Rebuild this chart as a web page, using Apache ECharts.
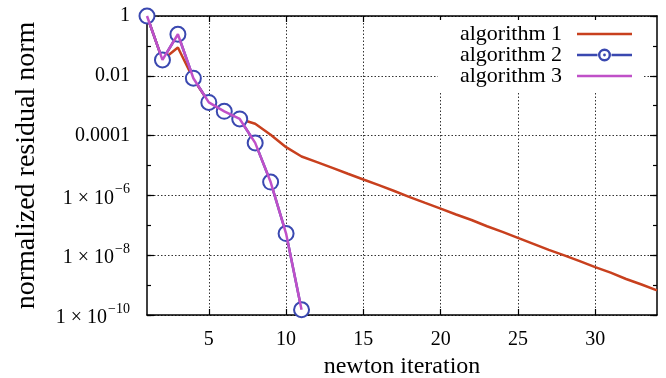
<!DOCTYPE html>
<html>
<head>
<meta charset="utf-8">
<script src="https://cdn.jsdelivr.net/npm/echarts@6/dist/echarts.min.js"></script>
<style>
html,body{margin:0;padding:0;background:#fff;}
#chart{width:666px;height:378px;}
</style>
</head>
<body>
<div id="chart"></div>
<script>
// iterations
const iter1 = [1,2,3,4,5,6,7,8,9,10,11,12,13,14,15,16,17,18,19,20,21,22,23,24,25,26,27,28,29,30,31,32,33,34];
const iter2 = [1,2,3,4,5,6,7,8,9,10,11];
// normalized residual norms
const alg1 = [1, 0.034, 0.088, 0.0078, 1.29e-3, 6.5e-4, 3.6e-4, 2.5e-4, 1.07e-4, 4.1e-5, 2.0e-5,
  1.3e-5, 8.3e-6, 5.3e-6, 3.4e-6, 2.2e-6, 1.4e-6, 8.8e-7, 5.6e-7, 3.6e-7, 2.3e-7, 1.5e-7,
  9.3e-8, 6.0e-8, 3.8e-8, 2.4e-8, 1.5e-8, 9.9e-9, 6.3e-9, 4.0e-9, 2.6e-9, 1.6e-9, 1.05e-9, 6.7e-10];
const alg2 = [1, 0.034, 0.245, 0.0083, 1.29e-3, 6.5e-4, 3.6e-4, 5.7e-5, 2.8e-6, 5.3e-8, 1.5e-10];
const alg3 = [1, 0.034, 0.245, 0.0083, 1.29e-3, 6.5e-4, 3.6e-4, 5.7e-5, 2.8e-6, 5.3e-8, 1.5e-10];
const names = ['algorithm 1', 'algorithm 2', 'algorithm 3'];
const xTicks = [5, 10, 15, 20, 25, 30];

const FONT = '"Liberation Serif", "DejaVu Serif", serif';
const pair = (xs, ys) => xs.map((x, i) => [x, ys[i]]);

function yFmt(v) {
  const e = Math.round(Math.log10(v));
  if (e === 0) return '1';
  if (e === -2) return '0.01';
  if (e === -4) return '0.0001';
  return '{m|1 × 10}{s|−' + (-e) + '}';
}

// legend icons (55 x 14 box); tiny degenerate sub-paths pin the bounding box
const pin = 'M0,0L0.01,0L0.01,0.01Z M54.99,13.99L55,13.99L55,14Z ';
const lineIcon = 'path://' + pin + 'M0,5.75L55,5.75L55,8.25L0,8.25Z';
const circIcon = 'path://' + pin +
  'M0,5.75L20.5,5.75L20.5,8.25L0,8.25Z M34.5,5.75L55,5.75L55,8.25L34.5,8.25Z ' +
  'M21,7A6.5,6.5 0 1,1 34,7A6.5,6.5 0 1,1 21,7Z ' +
  'M23.4,7A4.1,4.1 0 1,0 31.6,7A4.1,4.1 0 1,0 23.4,7Z ' +
  'M26.1,7A1.4,1.4 0 1,1 28.9,7A1.4,1.4 0 1,1 26.1,7Z';

const chart = echarts.init(document.getElementById('chart'), null, {renderer: 'canvas'});
const tickStyle = {color: '#000', width: 1.2};
chart.setOption({
  animation: false,
  backgroundColor: '#fff',
  grid: {left: 147, right: 9, top: 16, bottom: 63, containLabel: false, outerBoundsMode: 'none'},
  legend: {
    data: [
      {name: names[0], icon: lineIcon},
      {name: names[1], icon: circIcon},
      {name: names[2], icon: lineIcon}
    ],
    orient: 'vertical',
    right: 24,
    top: 20,
    align: 'right',
    itemWidth: 55,
    itemHeight: 14,
    itemGap: -1,
    padding: [3, 10, 6, 22],
    backgroundColor: '#fff',
    textStyle: {fontFamily: FONT, fontSize: 22, color: '#000', padding: [0, 10, 0, 0]}
  },
  xAxis: [{
    type: 'value', min: 1, max: 34, interval: 5,
    position: 'bottom',
    name: 'newton iteration', nameLocation: 'middle', nameGap: 40,
    nameTextStyle: {fontFamily: FONT, fontSize: 24, color: '#000'},
    axisLine: {show: true, lineStyle: {color: '#000', width: 1.5}},
    axisTick: {show: true, inside: true, length: 6, lineStyle: tickStyle,
      customValues: xTicks},
    axisLabel: {fontFamily: FONT, fontSize: 20, color: '#000', margin: 15,
      customValues: xTicks},
    splitLine: {show: true, lineStyle: {color: '#333', type: [1.5, 2], width: 1}}
  }, {
    type: 'value', min: 1, max: 34, interval: 5,
    position: 'top',
    axisLine: {show: true, lineStyle: {color: '#000', width: 1.5}},
    axisTick: {show: true, inside: true, length: 6, lineStyle: tickStyle, customValues: xTicks},
    axisLabel: {show: false},
    splitLine: {show: false}
  }],
  yAxis: [{
    type: 'log', logBase: 10, min: 1e-10, max: 1, interval: 2,
    position: 'left',
    name: 'normalized residual norm', nameLocation: 'middle', nameGap: 106, nameRotate: 90,
    nameTextStyle: {fontFamily: FONT, fontSize: 28, color: '#000'},
    axisLine: {show: true, lineStyle: {color: '#000', width: 1.5}},
    axisTick: {show: true, inside: true, length: 7, lineStyle: tickStyle},
    axisLabel: {
      fontFamily: FONT, fontSize: 20, color: '#000', margin: 17,
      formatter: yFmt,
      rich: {
        m: {fontFamily: FONT, fontSize: 20, color: '#000', lineHeight: 26, verticalAlign: 'bottom'},
        s: {fontFamily: FONT, fontSize: 14, color: '#000', lineHeight: 14, verticalAlign: 'top', padding: [0, 0, 0, 1]}
      }
    },
    splitLine: {show: true, lineStyle: {color: '#333', type: [1.5, 2], width: 1}}
  }, {
    type: 'log', logBase: 10, min: 1e-10, max: 1, interval: 2,
    position: 'right',
    axisLine: {show: true, lineStyle: {color: '#000', width: 1.5}},
    axisTick: {show: true, inside: true, length: 7, lineStyle: tickStyle},
    axisLabel: {show: false},
    splitLine: {show: false}
  }, {
    type: 'log', logBase: 10, min: 1e-10, max: 1, interval: 1,
    position: 'left',
    axisLine: {show: false},
    axisTick: {show: true, inside: true, length: 4, lineStyle: tickStyle},
    axisLabel: {show: false},
    splitLine: {show: false}
  }, {
    type: 'log', logBase: 10, min: 1e-10, max: 1, interval: 1,
    position: 'right',
    axisLine: {show: false},
    axisTick: {show: true, inside: true, length: 4, lineStyle: tickStyle},
    axisLabel: {show: false},
    splitLine: {show: false}
  }],
  series: [{
    name: names[0], type: 'line', data: pair(iter1, alg1),
    symbol: 'none', z: 2,
    lineStyle: {color: '#c8401e', width: 2.5},
    itemStyle: {color: '#c8401e'}
  }, {
    name: names[1], type: 'line', data: pair(iter2, alg2),
    symbol: 'emptyCircle', symbolSize: 15, z: 3,
    lineStyle: {color: '#3a48b0', width: 2.5},
    itemStyle: {color: '#3a48b0', borderWidth: 2.6}
  }, {
    name: names[2], type: 'line', data: pair(iter2, alg3),
    symbol: 'none', z: 4,
    lineStyle: {color: '#c050c8', width: 2.5},
    itemStyle: {color: '#c050c8'}
  }]
});
</script>
</body>
</html>
